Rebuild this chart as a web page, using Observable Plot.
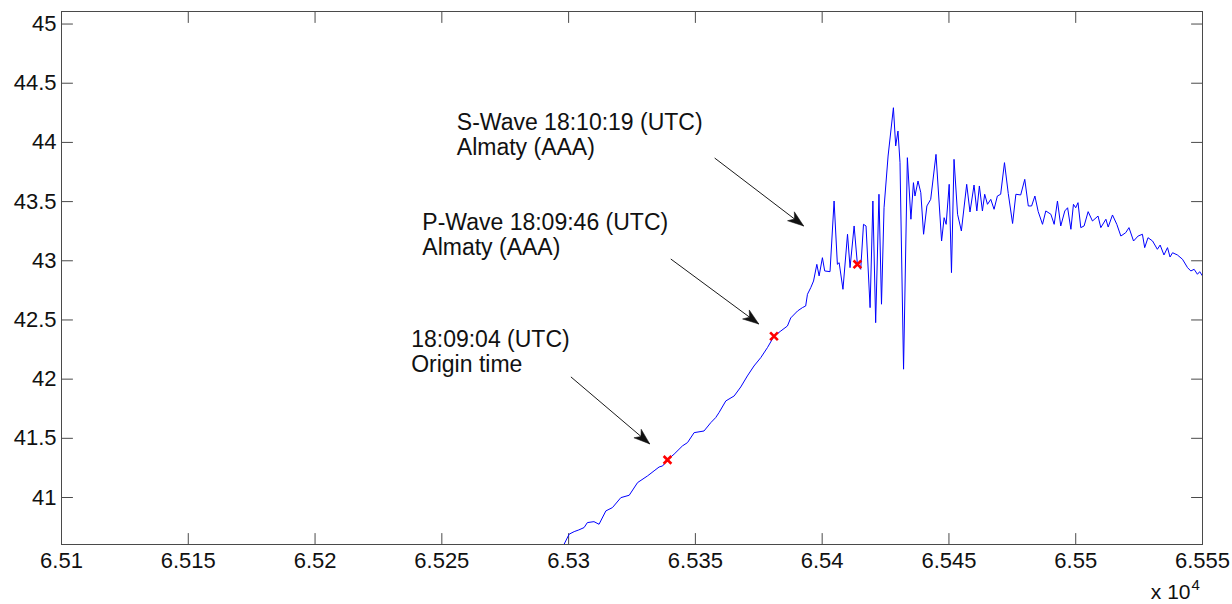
<!DOCTYPE html>
<html>
<head>
<meta charset="utf-8">
<script src="https://cdn.jsdelivr.net/npm/d3@7"></script>
<script src="https://cdn.jsdelivr.net/npm/@observablehq/plot@0.6"></script>
<style>
  html, body { margin: 0; padding: 0; background: #ffffff; }
  #chart svg { display: block; }
</style>
</head>
<body>
<div id="chart"></div>
<script>
// Recorded trace: time in seconds of the day (UTC), x 10^4 on the axis
const time = [
  65296.9, 65300.2, 65302.2, 65304.0, 65306.1, 65307.4, 65310.0, 65312.0, 65314.7, 65317.3,
  65320.6, 65323.9, 65327.2, 65331.1, 65333.7, 65335.7, 65337.1, 65339.0, 65341.6, 65344.9,
  65346.9, 65349.5, 65353.4, 65356.1, 65358.0, 65359.3, 65362.0, 65365.3, 65367.9, 65370.5,
  65373.1, 65375.8, 65378.4, 65381.0, 65383.7, 65386.3, 65387.6, 65390.3, 65392.2, 65393.5,
  65394.2, 65395.5, 65396.6, 65397.9, 65398.8, 65400.1, 65401.0, 65403.1, 65404.7, 65406.0,
  65406.7, 65408.2, 65410.0, 65411.0, 65412.6, 65413.9, 65415.2, 65416.3, 65417.3, 65418.9,
  65420.0, 65421.1, 65422.4, 65423.4, 65424.4, 65426.0, 65428.1, 65429.0, 65429.9, 65430.7,
  65432.1, 65433.6, 65435.0, 65436.0, 65436.6, 65437.8, 65438.9, 65440.0, 65441.3, 65442.8,
  65444.9, 65447.1, 65448.1, 65448.9, 65450.1, 65451.0, 65452.0, 65453.4, 65454.9, 65457.0,
  65458.3, 65459.9, 65461.0, 65462.0, 65463.2, 65464.1, 65465.2, 65466.5, 65467.8, 65469.1,
  65470.4, 65471.9, 65473.4, 65475.1, 65476.4, 65478.3, 65479.9, 65481.3, 65482.6, 65483.9,
  65485.2, 65486.9, 65488.2, 65490.2, 65491.5, 65492.8, 65494.1, 65495.7, 65496.8, 65498.1,
  65499.1, 65500.0, 65500.9, 65502.0, 65503.3, 65504.9, 65506.6, 65508.8, 65509.9, 65511.9,
  65512.8, 65514.5, 65516.2, 65517.8, 65519.7, 65521.0, 65522.8, 65524.6, 65526.3, 65527.2,
  65528.5, 65530.3, 65532.2, 65533.3, 65534.8, 65536.2, 65537.2, 65538.2, 65540.1, 65542.1,
  65544.1, 65545.4, 65546.7, 65548.0, 65548.9, 65550.0
];
const value = [
  40.549, 40.690, 40.712, 40.726, 40.746, 40.788, 40.796, 40.774, 40.887, 40.915,
  40.999, 41.019, 41.126, 41.182, 41.225, 41.258, 41.267, 41.318, 41.366, 41.436,
  41.464, 41.548, 41.562, 41.633, 41.675, 41.717, 41.816, 41.858, 41.934, 42.027,
  42.111, 42.182, 42.266, 42.362, 42.407, 42.449, 42.517, 42.576, 42.604, 42.618,
  42.717, 42.773, 42.829, 42.970, 42.872, 43.026, 42.914, 42.908, 43.505, 42.970,
  42.984, 42.759, 43.224, 42.942, 43.294, 42.970, 42.928, 43.308, 43.294, 42.604,
  43.505, 42.477, 43.562, 42.633, 43.448, 43.885, 44.293, 43.970, 44.096, 43.829,
  42.084, 43.871, 43.351, 43.660, 43.547, 43.674, 43.575, 43.224, 43.463, 43.519,
  43.899, 43.167, 43.364, 43.308, 43.646, 42.900, 43.857, 43.393, 43.252, 43.646,
  43.412, 43.640, 43.421, 43.632, 43.421, 43.562, 43.477, 43.519, 43.435, 43.547,
  43.562, 43.829, 43.568, 43.315, 43.562, 43.556, 43.688, 43.463, 43.463, 43.547,
  43.416, 43.308, 43.421, 43.393, 43.308, 43.505, 43.294, 43.421, 43.448, 43.266,
  43.477, 43.448, 43.491, 43.280, 43.294, 43.415, 43.336, 43.378, 43.280, 43.351,
  43.285, 43.387, 43.308, 43.209, 43.237, 43.280, 43.167, 43.209, 43.224, 43.111,
  43.195, 43.167, 43.097, 43.133, 43.049, 43.111, 43.032, 43.068, 43.049, 43.013,
  42.942, 42.914, 42.928, 42.886, 42.908, 42.872
];

// Picked arrivals (red crosses)
const pickTime = [65339.0, 65381.0, 65413.9];
const pickValue = [41.318, 42.362, 42.970];

// Annotation text blocks and their arrows
const noteLabels = [
  "18:09:04 (UTC)\nOrigin time",
  "P-Wave 18:09:46 (UTC)\nAlmaty (AAA)",
  "S-Wave 18:10:19 (UTC)\nAlmaty (AAA)"
];
const noteTime = [65237.9, 65242.3, 65255.9];
const noteValue = [42.235, 43.224, 44.067];
const arrowFromTime = [65300.9, 65340.3, 65357.6];
const arrowFromValue = [42.019, 43.015, 43.868];
const arrowToTime = [65332.0, 65375.0, 65392.7];
const arrowToValue = [41.453, 42.466, 43.294];

// Axis ticks
const xTicks = [65100, 65150, 65200, 65250, 65300, 65350, 65400, 65450, 65500, 65550];
const xTickLabels = ["6.51", "6.515", "6.52", "6.525", "6.53", "6.535", "6.54", "6.545", "6.55", "6.555"];
const yTicks = [41, 41.5, 42, 42.5, 43, 43.5, 44, 44.5, 45];
const yTickLabels = ["41", "41.5", "42", "42.5", "43", "43.5", "44", "44.5", "45"];

const xDomain = [65100, 65550];
const yDomain = [40.603, 45.106];

const W = 1232, H = 604;
const M = {left: 61, right: 30, top: 11, bottom: 60};
const axisColor = "#4a4a4a";
const inkColor = "#111111";
const FONT = "'Liberation Sans', Arial, Helvetica, sans-serif";

const series = time.map((t, i) => ({t, v: value[i]}));
const picks = pickTime.map((t, i) => ({t, v: pickValue[i]}));
const notes = noteLabels.map((label, i) => ({label, t: noteTime[i], v: noteValue[i]}));

// Standalone scales with the same domain/range as the plot, used to orient arrowheads
const xs = Plot.scale({x: {domain: xDomain, range: [M.left, W - M.right]}});
const ys = Plot.scale({y: {domain: yDomain, range: [H - M.bottom, M.top]}});
const arrows = arrowFromTime.map((t, i) => {
  const dx = xs.apply(arrowToTime[i]) - xs.apply(t);
  const dy = ys.apply(arrowToValue[i]) - ys.apply(arrowFromValue[i]);
  return {
    x1: t, y1: arrowFromValue[i],
    x2: arrowToTime[i], y2: arrowToValue[i],
    angle: Math.atan2(dx, -dy) * 180 / Math.PI
  };
});

// Filled arrowhead with a notched back; tip at the origin, pointing up
const arrowHead = {
  draw(ctx) {
    ctx.moveTo(0, 0);
    ctx.lineTo(-5.6, 16);
    ctx.lineTo(0, 11.5);
    ctx.lineTo(5.6, 16);
    ctx.closePath();
  }
};

// Straight inward tick drawn from the frame edge
const tickShape = {
  draw(ctx, l) {
    ctx.moveTo(0, 0);
    ctx.lineTo(0, -l);
  }
};
const TICK = 11;

const chart = Plot.plot({
  width: W,
  height: H,
  marginLeft: M.left,
  marginRight: M.right,
  marginTop: M.top,
  marginBottom: M.bottom,
  style: {fontFamily: FONT, fontSize: "22px", color: inkColor, background: "#ffffff"},
  x: {domain: xDomain},
  y: {domain: yDomain},
  marks: [
    // tick labels
    Plot.axisX(xTicks, {
      tickSize: 0, tickPadding: 8,
      tickFormat: (d) => xTickLabels[xTicks.indexOf(d)],
      fill: inkColor
    }),
    Plot.axisY(yTicks, {
      tickSize: 0, tickPadding: 5,
      tickFormat: (d) => yTickLabels[yTicks.indexOf(d)],
      fill: inkColor
    }),
    // inward ticks on all four sides
    Plot.vector(xTicks, {x: (d) => d, frameAnchor: "bottom", anchor: "start", length: TICK, rotate: 0, shape: tickShape, stroke: axisColor, strokeWidth: 1}),
    Plot.vector(xTicks, {x: (d) => d, frameAnchor: "top", anchor: "start", length: TICK, rotate: 180, shape: tickShape, stroke: axisColor, strokeWidth: 1}),
    Plot.vector(yTicks, {y: (d) => d, frameAnchor: "left", anchor: "start", length: TICK, rotate: 90, shape: tickShape, stroke: axisColor, strokeWidth: 1}),
    Plot.vector(yTicks, {y: (d) => d, frameAnchor: "right", anchor: "start", length: TICK, rotate: -90, shape: tickShape, stroke: axisColor, strokeWidth: 1}),
    // the trace
    Plot.line(series, {x: "t", y: "v", stroke: "#0000ff", strokeWidth: 1, clip: true}),
    // picked arrivals
    Plot.dot(picks, {x: "t", y: "v", symbol: "times", r: 3.6, stroke: "#ff0000", strokeWidth: 2.6}),
    // annotation arrows
    Plot.link(arrows, {x1: "x1", y1: "y1", x2: "x2", y2: "y2", stroke: "#1a1a1a", strokeWidth: 1}),
    Plot.dot(arrows, {x: "x2", y: "y2", symbol: arrowHead, rotate: "angle", r: 4, fill: "#111111", stroke: "#111111", strokeWidth: 0.5}),
    Plot.text(notes, {x: "t", y: "v", text: "label", textAnchor: "start", lineAnchor: "middle", lineHeight: 1.1, fontSize: 23, fill: inkColor}),
    // axis exponent
    Plot.text(["x 10"], {frameAnchor: "bottom-right", textAnchor: "end", lineAnchor: "bottom", dx: -12, dy: 54, fontSize: 21, fill: inkColor}),
    Plot.text(["4"], {frameAnchor: "bottom-right", textAnchor: "start", lineAnchor: "bottom", dx: -11, dy: 45, fontSize: 15, fill: inkColor}),
    // box
    Plot.frame({stroke: axisColor, strokeWidth: 1})
  ]
});

document.getElementById("chart").appendChild(chart);
</script>
</body>
</html>
